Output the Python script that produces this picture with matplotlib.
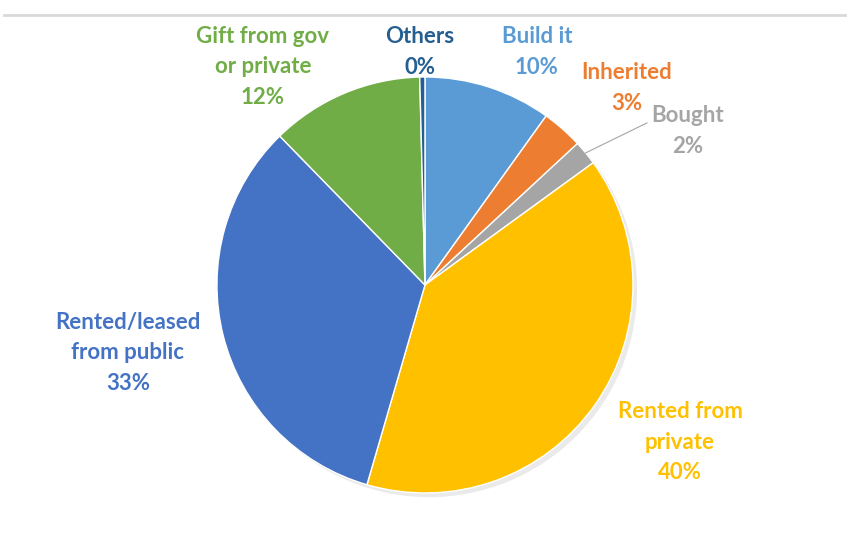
import numpy as np
import matplotlib.pyplot as plt
from matplotlib.lines import Line2D
from matplotlib.patches import Circle
import matplotlib.patheffects as pe

plt.rcParams['font.family'] = ['Lato', 'DejaVu Sans']

# Housing acquisition, share of respondents (%).
labels = ["Build it", "Inherited", "Bought", "Rented from\nprivate",
          "Rented/leased\nfrom public", "Gift from gov\nor private", "Others"]
shares = [9.9, 3.2, 1.9, 39.5, 33.2, 11.9, 0.4]
colors = ["#5B9BD5", "#ED7D31", "#A5A5A5", "#FFC000",
          "#4472C4", "#70AD47", "#255E91"]

# Label anchors in units of the pie radius.
label_xy = [(0.538, 1.120), (0.971, 0.947), (1.264, 0.740), (1.226, -0.755),
            (-1.428, -0.327), (-0.779, 1.048), (-0.024, 1.120)]

fig = plt.figure(figsize=(8.47, 5.45), dpi=100)
ax = fig.add_axes([0, 0, 1, 1])

# soft drop shadow behind the pie
shadow = Circle((0, 0), 1.0, facecolor="white", edgecolor="none", zorder=0,
                path_effects=[pe.SimplePatchShadow(offset=(3, -3), shadow_rgbFace="#999999", alpha=0.2),
                              pe.Normal()])
ax.add_patch(shadow)

wedges, _ = ax.pie(shares, colors=colors, startangle=90, counterclock=False,
                   radius=1.0, wedgeprops=dict(edgecolor="white", linewidth=1.0))

for w, lab, v, c, (x, y) in zip(wedges, labels, shares, colors, label_xy):
    ax.text(x, y, f"{lab}\n{v:.0f}%", color=c, fontsize=16, fontweight="bold",
            ha="center", va="center", linespacing=1.55)

# leader line for the thin "Bought" slice
b = wedges[2]
mid = np.deg2rad((b.theta1 + b.theta2) / 2)
ax.plot([np.cos(mid), 1.067], [np.sin(mid), 0.779], color="#A5A5A5", lw=0.8)

ax.set_xlim(-2.043, 2.029)
ax.set_ylim(-1.25, 1.370)
ax.set_aspect("equal")
ax.axis("off")

fig.add_artist(Line2D([0.005, 1.0], [0.972, 0.972], color="#D9D9D9", lw=2))

fig.savefig("out.png", dpi=100)
